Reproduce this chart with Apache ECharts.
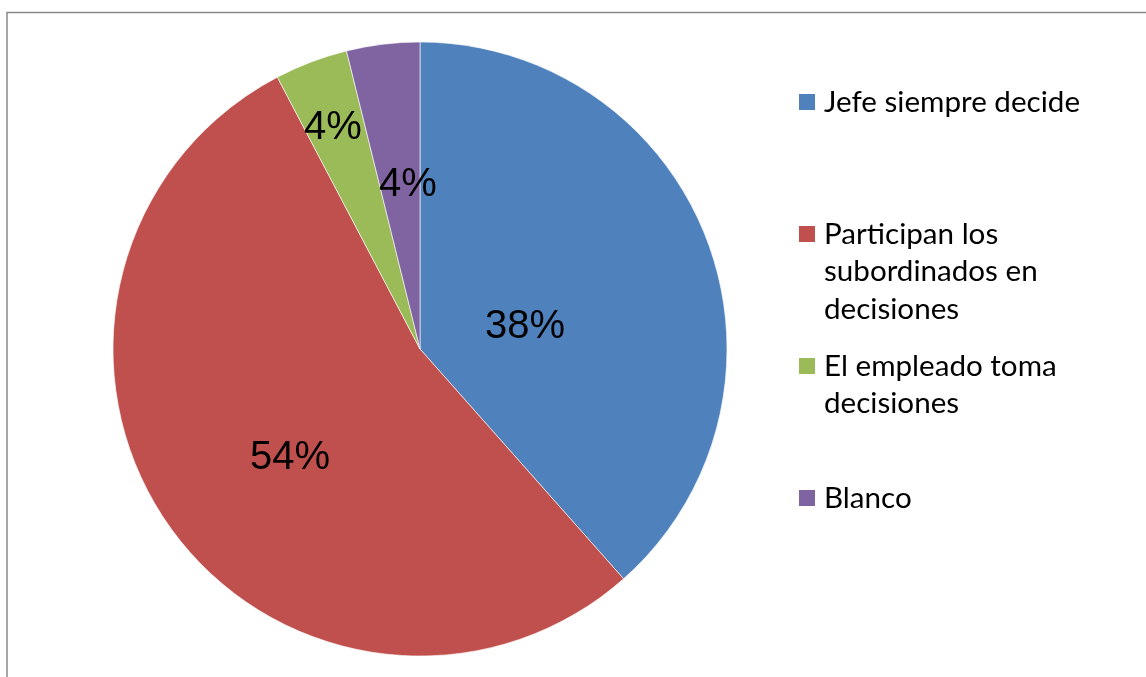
<!DOCTYPE html>
<html>
<head>
<meta charset="utf-8">
<script src="https://cdn.jsdelivr.net/npm/echarts@6/dist/echarts.min.js"></script>
<style>html,body{margin:0;padding:0;background:#fff;}#c{width:1146px;height:677px;}</style>
</head>
<body>
<div id="c"></div>
<script>
const categories = ['Jefe siempre decide', 'Participan los subordinados en decisiones', 'El empleado toma decisiones', 'Blanco'];
const legendLabels = ['Jefe siempre decide', 'Participan los\nsubordinados en\ndecisiones', 'El empleado toma\ndecisiones', 'Blanco'];
const values = [10, 14, 1, 1];
const colors = ['#4F81BD', '#C0504D', '#9BBB59', '#8064A2'];

const labelCenters = [[525, 327], [290, 458], [333, 128], [408, 185]];
const legendIconCenters = [102, 234, 366, 498];
const LH = 37.5;

const chart = echarts.init(document.getElementById('c'), null, {renderer: 'canvas'});

const legends = categories.map((name, i) => {
  const n = legendLabels[i].split('\n').length;
  // prepend empty lines so the first text line sits level with the icon
  const txt = '\n'.repeat(n - 1) + legendLabels[i];
  return {
    orient: 'vertical',
    left: 797,
    top: legendIconCenters[i] - (2 * n - 1) * LH / 2,
    padding: 0,
    itemWidth: 18,
    itemHeight: 18,
    icon: 'rect',
    selectedMode: false,
    data: [name],
    formatter: () => txt,
    textStyle: {
      fontFamily: 'Lato',
      fontSize: 29.6,
      color: '#000',
      lineHeight: LH,
      padding: [0, 0, 0, 3]
    }
  };
});

chart.setOption({
  animation: false,
  backgroundColor: '#fff',
  color: colors,
  graphic: [{
    type: 'rect',
    shape: {x: 7, y: 12.5, width: 1200, height: 700},
    style: {fill: 'none', stroke: '#898989', lineWidth: 1.5},
    silent: true
  }],
  legend: legends,
  series: [{
    type: 'pie',
    center: [420, 349],
    radius: [0, 307],
    startAngle: 90,
    clockwise: true,
    percentPrecision: 0,
    avoidLabelOverlap: false,
    itemStyle: {borderColor: '#ffffff', borderWidth: 0.6},
    label: {
      show: true,
      position: 'inside',
      formatter: '{d}%',
      fontFamily: 'Liberation Sans',
      fontSize: 40,
      color: '#000'
    },
    labelLine: {show: false},
    labelLayout: function (p) {
      const c = labelCenters[p.dataIndex];
      return {x: c[0], y: c[1], align: 'center', verticalAlign: 'middle'};
    },
    emphasis: {disabled: true},
    data: categories.map((name, i) => ({name: name, value: values[i]}))
  }]
});
</script>
</body>
</html>
